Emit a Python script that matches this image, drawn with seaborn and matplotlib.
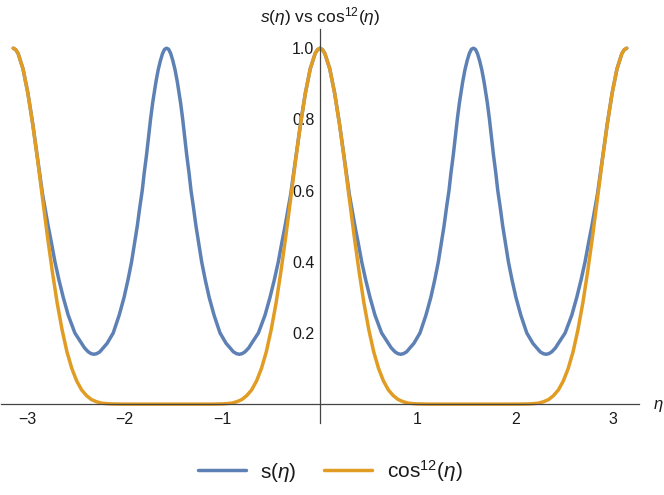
import numpy as np
import pandas as pd
import matplotlib
matplotlib.use('Agg')
import matplotlib.pyplot as plt
import seaborn as sns
from matplotlib.ticker import FixedLocator, NullFormatter

eta_s = [0.0, 0.025, 0.05, 0.10, 0.15, 0.20, 0.25, 0.30, 0.358, 0.392, 0.427,
         0.468, 0.512, 0.563, 0.631, 0.70, 0.73, 0.768, 0.797, 0.826, 0.856,
         0.887, 0.925, 0.962, 1.024, 1.085, 1.135, 1.175, 1.212, 1.242, 1.270,
         1.297, 1.321, 1.341, 1.365, 1.382, 1.406, 1.427, 1.461, 1.485, 1.507,
         1.529, 1.550, np.pi / 2]
s_vals = [1.0, 0.996, 0.985, 0.942, 0.874, 0.787, 0.688, 0.59, 0.50, 0.452, 0.40,
          0.349, 0.30, 0.25, 0.20, 0.171, 0.158, 0.147, 0.142, 0.140, 0.142,
          0.147, 0.159, 0.171, 0.20, 0.25, 0.30, 0.349, 0.40, 0.452, 0.50,
          0.555, 0.60, 0.649, 0.70, 0.742, 0.80, 0.845, 0.905, 0.94, 0.965,
          0.985, 0.997, 1.0]

eta_c = [0.0, 0.025, 0.05, 0.10, 0.15, 0.20, 0.25, 0.30, 0.35, 0.40, 0.45, 0.50,
         0.55, 0.60, 0.65, 0.70, 0.75, 0.80, 0.85, 0.90, 0.95, 1.00, 1.10, 1.20,
         1.40, np.pi / 2]
cos12_vals = [1.0, 0.996, 0.985, 0.942, 0.873, 0.785, 0.685, 0.578, 0.472, 0.373,
              0.284, 0.209, 0.147, 0.100, 0.065, 0.040, 0.024, 0.013, 0.007,
              0.003, 0.0015, 0.0006, 0.0001, 0.0, 0.0, 0.0]

x_major = [-3, -2, -1, 1, 2, 3]
y_major = [0.2, 0.4, 0.6, 0.8, 1.0]
y_labels = ['0.2', '0.4', '0.6', '0.8', '1.0']

blue = '#5E81B5'
orange = '#E19C24'


def unfold(x, y):
    # both curves are even and pi-periodic: mirror the quarter to [-pi, pi]
    x = np.asarray(x, float)
    y = np.asarray(y, float)
    xh = np.concatenate([x, np.pi - x[::-1][1:]])
    yh = np.concatenate([y, y[::-1][1:]])
    xf = np.concatenate([-xh[::-1][:-1], xh])
    yf = np.concatenate([yh[::-1][:-1], yh])
    return xf, yf


xs, ys = unfold(eta_s, s_vals)
xc, yc = unfold(eta_c, cos12_vals)
df = pd.concat([
    pd.DataFrame({'eta': xs, 'val': ys, 'curve': 's'}),
    pd.DataFrame({'eta': xc, 'val': yc, 'curve': 'cos12'}),
])

sns.set_style('white')
plt.rcParams['font.family'] = ['Liberation Sans', 'DejaVu Sans']
plt.rcParams['mathtext.fontset'] = 'custom'
plt.rcParams['mathtext.rm'] = 'Liberation Sans'
plt.rcParams['mathtext.it'] = 'Liberation Sans:italic'

fig = plt.figure(figsize=(6.64, 4.95), dpi=100)
ax = fig.add_axes([1 / 664, 72 / 495, 638 / 664, 394 / 495])

lw = 2.5
sns.lineplot(data=df[df.curve == 's'], x='eta', y='val', ax=ax, color=blue,
             lw=lw, estimator=None, sort=False, solid_capstyle='round',
             solid_joinstyle='round')
sns.lineplot(data=df[df.curve == 'cos12'], x='eta', y='val', ax=ax, color=orange,
             lw=lw, estimator=None, sort=False, solid_capstyle='round',
             solid_joinstyle='round')

ax.set_xlim(-3.267, 3.267)
ax.set_ylim(-0.053, 1.054)
ax.set_xlabel('')
ax.set_ylabel('')

axcol = '#444444'
for side in ['top', 'right']:
    ax.spines[side].set_visible(False)
ax.spines['left'].set_position(('data', 0))
ax.spines['bottom'].set_position(('data', 0))
for side in ['left', 'bottom']:
    ax.spines[side].set_color(axcol)
    ax.spines[side].set_linewidth(0.9)

ax.xaxis.set_major_locator(FixedLocator(x_major))
ax.xaxis.set_minor_locator(FixedLocator([v / 5 for v in range(-16, 17) if v % 5]))
ax.set_xticklabels([str(v).replace('-', '\u2212') for v in x_major])
ax.yaxis.set_major_locator(FixedLocator(y_major))
ax.yaxis.set_minor_locator(FixedLocator([v / 20 for v in range(-1, 22) if v % 4]))
ax.set_yticklabels(y_labels)
ax.xaxis.set_minor_formatter(NullFormatter())
ax.yaxis.set_minor_formatter(NullFormatter())

ax.tick_params(axis='x', which='major', direction='in', length=5.2, width=0.9,
               color=axcol, labelsize=11.5, pad=6, labelcolor='#1a1a1a')
ax.tick_params(axis='x', which='minor', direction='in', length=3.2, width=0.7,
               color=axcol)
ax.tick_params(axis='y', which='major', direction='in', length=5.0, width=0.9,
               color=axcol, labelsize=11.5, pad=4, labelcolor='#1a1a1a')
ax.tick_params(axis='y', which='minor', direction='in', length=3.0, width=0.7,
               color=axcol)

fig.text(658 / 664, 1 - 406 / 495, r'$\eta$', fontsize=12, ha='center',
         va='center', color='#1a1a1a')
fig.text(320 / 664, 1 - 17 / 495, r'$s(\eta)$ vs $\mathrm{cos}^{12}(\eta)$',
         fontsize=12.5, ha='center', va='center', color='#1a1a1a')

handles = [plt.Line2D([], [], color=blue, lw=lw),
           plt.Line2D([], [], color=orange, lw=lw)]
fig.legend(handles, [r'$\mathrm{s}(\eta)$', r'$\mathrm{cos}^{12}(\eta)$'],
           loc='center', bbox_to_anchor=(330 / 664, 1 - 471 / 495), ncol=2,
           frameon=False, fontsize=15, handlelength=2.3, handletextpad=0.7,
           columnspacing=1.3, labelcolor='#1a1a1a')

fig.savefig('out.png', dpi=100)
